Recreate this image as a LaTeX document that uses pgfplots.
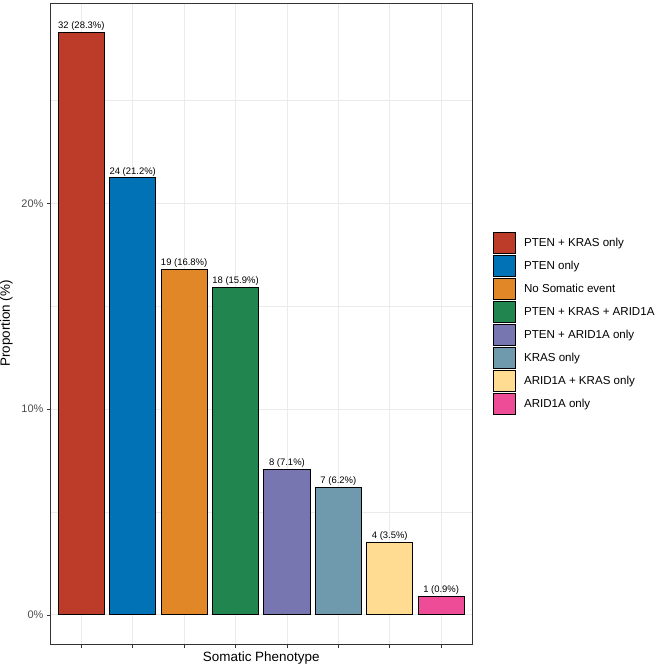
\documentclass[border=0pt]{standalone}
\usepackage{pgfplots}
\pgfplotsset{compat=1.18}
\usepackage{fontspec}
\setmainfont{Liberation Sans}
\definecolor{c1}{HTML}{BC3C29}
\definecolor{c2}{HTML}{0072B5}
\definecolor{c3}{HTML}{E18727}
\definecolor{c4}{HTML}{20854E}
\definecolor{c5}{HTML}{7876B1}
\definecolor{c6}{HTML}{6F99AD}
\definecolor{c7}{HTML}{FFDC91}
\definecolor{c8}{HTML}{EE4C97}
\definecolor{gridc}{HTML}{EBEBEB}
\definecolor{g20}{HTML}{333333}
\definecolor{g30}{HTML}{4D4D4D}
\begin{document}
\begin{tikzpicture}
\path[use as bounding box] (0,0) rectangle (660bp,667bp);
\begin{axis}[
  scale only axis,
  anchor=south west,
  at={(50.5bp,23bp)},
  width=421.5bp, height=641bp,
  xmin=0.4, xmax=8.6,
  ymin=-1.416, ymax=29.74,
  xtick={1,2,3,4,5,6,7,8},
  xticklabels={},
  ytick={0,10,20},
  yticklabels={0\%,10\%,20\%},
  minor ytick={5,15,25},
  minor tick length=0pt,
  xmajorgrids, ymajorgrids, yminorgrids,
  major grid style={draw=gridc, line width=0.8bp},
  minor grid style={draw=gridc, line width=0.45bp},
  axis line style={draw=g20, line width=0.7bp},
  tick style={draw=g20, line width=0.7bp},
  tick align=outside,
  major tick length=3.6bp,
  xtick pos=bottom, ytick pos=left,
  yticklabel style={font=\fontsize{11}{12}\selectfont, text=g30},
  ylabel={Proportion (\%)},
  xlabel={Somatic Phenotype},
  ylabel style={font=\fontsize{13.5}{15}\selectfont, yshift=2bp},
  xlabel style={font=\fontsize{13.5}{15}\selectfont, yshift=6bp},
  bar width=0.9,
  ybar, bar shift=0pt,
  point meta=explicit symbolic,
  nodes near coords,
  nodes near coords style={font=\fontsize{9.5}{10}\selectfont, text=black, inner sep=1.5bp},
  every axis plot/.append style={draw=black, line width=0.8bp},
  legend image code/.code={\draw[#1, draw=black, line width=0.8bp] (0bp,-10.8bp) rectangle (21.6bp,10.8bp);},
  legend style={at={(1,0.5)}, anchor=west, xshift=18bp, draw=none, fill=none,
    font=\fontsize{11.6}{13}\selectfont, cells={anchor=west}, row sep=0.6bp,
    nodes={inner sep=1.5bp},
    /tikz/every odd column/.append style={column sep=7bp}},
]
\addplot[fill=c1] coordinates {(1,28.32) [32 (28.3\%)]};
\addplot[fill=c2] coordinates {(2,21.24) [24 (21.2\%)]};
\addplot[fill=c3] coordinates {(3,16.81) [19 (16.8\%)]};
\addplot[fill=c4] coordinates {(4,15.93) [18 (15.9\%)]};
\addplot[fill=c5] coordinates {(5,7.08) [8 (7.1\%)]};
\addplot[fill=c6] coordinates {(6,6.19) [7 (6.2\%)]};
\addplot[fill=c7] coordinates {(7,3.54) [4 (3.5\%)]};
\addplot[fill=c8] coordinates {(8,0.885) [1 (0.9\%)]};
\legend{PTEN + KRAS only, PTEN only, No Somatic event, PTEN + KRAS + ARID1A, PTEN + ARID1A only, KRAS only, ARID1A + KRAS only, ARID1A only}
\end{axis}
\end{tikzpicture}
\end{document}
